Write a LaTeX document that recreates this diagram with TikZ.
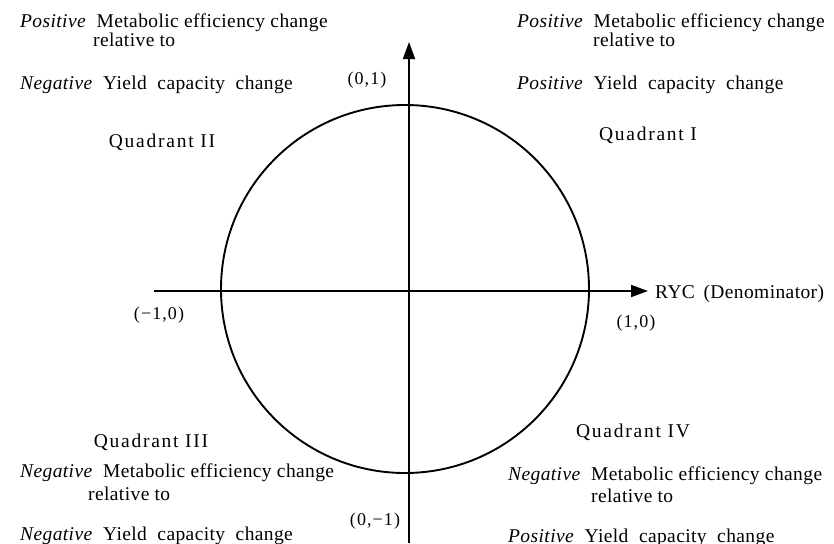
\documentclass[tikz,border=0pt]{standalone}
\usepackage{fontspec}
\setmainfont{Liberation Serif}
\usetikzlibrary{arrows.meta}

\begin{document}
\begin{tikzpicture}[
  x=1pt, y=-1pt,
  txt/.style={anchor=base west, inner sep=0pt, font=\fontsize{19.5}{22}\selectfont\addfontfeatures{LetterSpace=2}},
  quad/.style={anchor=base, inner sep=0pt, font=\fontsize{19.5}{22}\selectfont\addfontfeatures{LetterSpace=9}},
  pnt/.style={anchor=base, inner sep=0pt, font=\fontsize{18}{22}\selectfont\addfontfeatures{LetterSpace=6}},
  axis/.style={line width=1.9pt, -{Triangle[length=17pt,width=12pt]}},
  ring/.style={circle, draw=black, line width=1.9pt, minimum size=368pt, inner sep=0pt}
]
  \useasboundingbox (0,0) rectangle (834,543);

  % Circulo unidad
  \node[ring] (ring) at (405,289) {};

  % Ejes
  \coordinate (xl) at (154,291);
  \coordinate (xr) at (648,291);
  \coordinate (yb) at (409,543);
  \coordinate (yt) at (409,42);
  \draw[axis] (xl) -- (xr);
  \draw[axis] (yb) -- (yt);

  % Puntos sobre los ejes
  \node[pnt] (p01) at (367,84) {(0,1)};
  \node[pnt] (pm10) at (159,319) {(−1,0)};
  \node[pnt] (p10) at (636,327) {(1,0)};
  \node[pnt] (p0m1) at (375,525) {(0,−1)};
  \node[txt] (ryc) at (655,298) {RYC \,(Denominator)};

  % Cuadrante I
  \node[txt] (q1a) at (517,28) {\textit{Positive}\ \ Metabolic efficiency change};
  \node[txt] (q1b) at (593,47) {relative to};
  \node[txt] (q1c) at (517,89) {\textit{Positive}\ \ Yield\ \ capacity\ \ change};
  \node[quad] (q1) at (648,140) {Quadrant I};

  % Cuadrante II
  \node[txt] (q2a) at (20,28) {\textit{Positive}\ \ Metabolic efficiency change};
  \node[txt] (q2b) at (93,47) {relative to};
  \node[txt] (q2c) at (20,89) {\textit{Negative}\ \ Yield\ \ capacity\ \ change};
  \node[quad] (q2) at (162,147) {Quadrant II};

  % Cuadrante III
  \node[quad] (q3) at (151,447) {Quadrant III};
  \node[txt] (q3a) at (20,477) {\textit{Negative}\ \ Metabolic efficiency change};
  \node[txt] (q3b) at (88,500) {relative to};
  \node[txt] (q3c) at (20,540) {\textit{Negative}\ \ Yield\ \ capacity\ \ change};

  % Cuadrante IV
  \node[quad] (q4) at (633,437) {Quadrant IV};
  \node[txt] (q4a) at (508,480) {\textit{Negative}\ \ Metabolic efficiency change};
  \node[txt] (q4b) at (591,502) {relative to};
  \node[txt] (q4c) at (508,542) {\textit{Positive}\ \ Yield\ \ capacity\ \ change};
\end{tikzpicture}
\end{document}
